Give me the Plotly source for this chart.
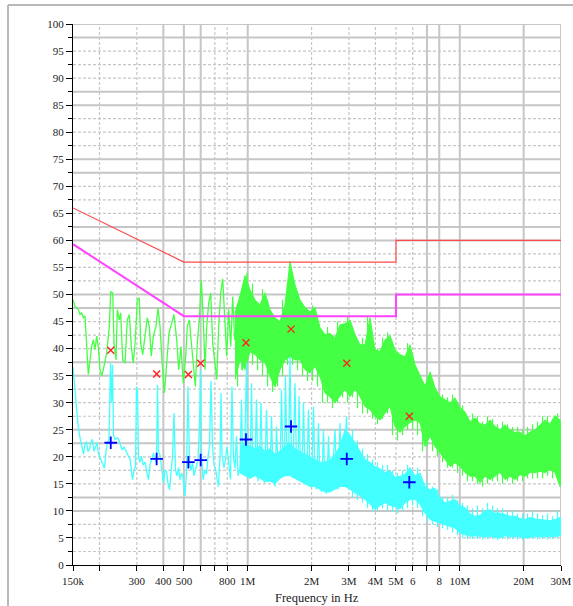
import plotly.graph_objects as go
import numpy as np

# ---------------- data (frequency, level in dBuV) ----------------
# Peak trace (green), low-frequency part as a line
green_line_khz = [150.0, 153.3, 158.9, 161.9, 164.9, 167.8, 170.9, 174.0, 177.1, 180.4, 183.8, 187.0, 190.5, 194.0,
                  197.4, 201.1, 204.9, 208.5, 212.4, 216.3, 222.5, 225.9, 230.9, 234.1, 239.3, 242.7, 248.0, 251.8,
                  257.3, 263.9, 270.5, 276.4, 282.5, 288.7, 295.0, 301.5, 308.1, 312.8, 319.7, 327.8, 336.1, 343.5,
                  351.0, 358.7, 369.3, 377.5, 385.8, 394.2, 404.2, 414.8, 425.3, 438.0, 449.0, 462.5, 472.6, 484.5,
                  496.8, 510.0, 518.9, 530.3, 542.0, 553.8, 566.1, 578.4, 591.1, 604.0, 617.4, 628.9, 640.6, 654.6,
                  669.1, 683.7, 698.7, 714.1, 729.7, 745.7, 762.0, 778.9, 795.9, 813.3, 831.3, 849.5, 868.1, 887.1,
                  906.7, 924.6, 939.7, 960.4, 976.1, 992.1, 1008.5]
green_line_db = [49.0, 47.8, 47.2, 46.3, 46.6, 45.7, 46.0, 41.0, 35.2, 37.9, 40.4, 41.6, 39.8, 42.3,
                 40.4, 36.1, 34.9, 36.1, 37.9, 39.2, 44.1, 50.5, 50.3, 41.0, 37.9, 47.2, 45.3, 46.6,
                 37.9, 37.3, 45.3, 46.3, 40.4, 37.3, 41.6, 49.0, 49.4, 41.0, 38.9, 42.3, 45.7, 44.1,
                 38.6, 42.3, 44.1, 47.5, 44.1, 37.9, 31.8, 37.3, 42.9, 44.7, 46.3, 41.6, 36.1, 40.4,
                 33.6, 38.6, 44.1, 45.3, 41.0, 36.1, 33.0, 41.0, 45.3, 52.7, 45.3, 36.1, 44.1, 48.4,
                 50.3, 41.0, 37.9, 34.3, 44.1, 50.3, 52.9, 44.1, 38.6, 47.2, 40.4, 49.6, 41.6, 44.7,
                 48.4, 43.0, 36.0, 46.0, 40.0, 54.0, 42.0]

# Peak trace, dense part: upper / lower envelope
green_band_mhz = [0.871, 0.920, 0.971, 1.025, 1.082, 1.143, 1.207, 1.274, 1.345, 1.420, 1.499, 1.583, 1.671,
                  1.764, 1.863, 1.967, 2.076, 2.192, 2.314, 2.443, 2.580, 2.724, 2.876, 3.036, 3.206, 3.384,
                  3.573, 3.773, 3.983, 4.206, 4.440, 4.688, 4.949, 5.226, 5.517, 5.825, 6.150, 6.493, 6.855,
                  7.237, 7.641, 8.067, 8.517, 8.992, 9.493, 10.02, 10.58, 11.17, 11.79, 12.45, 13.15, 13.88,
                  14.66, 15.47, 16.34, 17.25, 18.21, 19.23, 20.30, 21.43, 22.63, 23.89, 25.22, 26.63, 28.11,
                  29.68, 30.0]
green_upper_db = [46.6, 49.8, 53.5, 50.9, 49.0, 48.1, 50.3, 47.2, 45.7, 45.0, 48.1, 56.1, 51.8,
                  49.0, 47.6, 46.8, 47.6, 43.9, 42.6, 42.8, 42.0, 44.4, 44.6, 45.3, 42.6, 40.7,
                  40.7, 45.7, 39.8, 39.5, 41.6, 42.4, 39.8, 38.9, 38.5, 40.7, 37.0, 35.2, 33.1,
                  35.7, 32.8, 31.1, 30.6, 30.0, 30.9, 29.1, 28.3, 26.5, 27.2, 26.1, 25.9, 26.8,
                  25.6, 25.0, 25.9, 25.0, 24.5, 24.6, 23.9, 24.6, 25.0, 25.9, 26.8, 26.1, 27.6,
                  26.8, 26.0]
green_lower_db = [34.3, 37.9, 36.1, 39.4, 38.9, 37.9, 37.4, 34.8, 32.9, 36.1, 37.9, 38.5, 37.9,
                  37.9, 36.1, 35.5, 36.7, 34.8, 31.8, 31.1, 30.0, 31.1, 32.4, 31.1, 32.4, 31.1,
                  29.3, 28.7, 27.4, 26.8, 28.1, 29.3, 25.6, 24.5, 25.6, 26.3, 26.8, 26.3, 21.9,
                  23.8, 21.9, 20.8, 19.5, 18.2, 18.9, 18.2, 17.1, 16.4, 16.4, 15.2, 16.4, 15.8,
                  16.4, 17.1, 15.8, 16.4, 15.8, 16.7, 16.4, 17.1, 17.1, 17.3, 17.1, 17.6, 17.1,
                  14.5, 15.0]

# Peak trace: individual spikes sticking out of the dense part (frequency, top, bottom)
green_spike_mhz = [0.895, 0.945, 1.053, 1.112, 1.174, 1.240, 1.309, 1.382, 1.459, 1.540, 1.627, 1.717,
                   1.813, 1.914, 2.021, 2.133, 2.252, 2.378, 2.510, 2.651, 2.799, 2.955, 3.119, 3.294,
                   3.477, 3.671, 3.877, 4.093, 4.322, 4.562, 4.817, 5.085, 5.370, 5.669, 5.985, 6.319,
                   6.672, 7.044, 7.436, 7.851, 8.289, 8.751, 9.239, 9.754, 10.30, 10.87, 11.48, 12.11,
                   12.79, 13.51, 14.26, 15.06, 15.90, 16.79, 17.72, 18.71, 19.76, 20.86, 22.02, 23.25,
                   24.55, 25.91, 27.36, 28.88]
green_spike_top_db = [48.0, 51.0, 52.0, 47.0, 51.0, 49.0, 46.0, 44.0, 49.0, 52.0, 53.0, 50.0,
                      48.0, 46.0, 48.0, 45.0, 42.0, 44.0, 41.0, 45.0, 43.0, 46.0, 44.0, 41.0,
                      42.0, 46.0, 41.0, 40.0, 42.0, 43.0, 41.0, 39.0, 38.0, 41.0, 39.0, 36.0,
                      34.0, 35.0, 34.0, 32.0, 31.5, 31.0, 31.5, 30.0, 29.5, 27.5, 28.0, 27.5,
                      26.5, 27.5, 27.0, 26.0, 26.5, 26.0, 25.5, 25.5, 25.0, 25.5, 26.0, 26.5,
                      27.5, 27.5, 27.0, 28.0]
green_spike_bottom_db = [33.0, 36.0, 37.0, 36.0, 35.0, 33.0, 32.0, 33.0, 35.0, 37.0, 37.0, 36.0,
                         35.0, 34.0, 34.0, 33.0, 30.0, 30.0, 29.0, 30.0, 31.0, 30.0, 31.0, 29.0,
                         28.0, 28.0, 27.0, 26.0, 27.0, 28.0, 24.0, 23.0, 24.0, 25.0, 25.0, 24.0,
                         21.0, 22.0, 21.0, 20.0, 19.0, 18.0, 18.0, 17.0, 16.5, 15.5, 15.5, 15.0,
                         14.5, 15.0, 15.5, 15.5, 15.0, 15.5, 15.0, 15.5, 15.5, 16.0, 16.0, 16.0,
                         16.0, 16.5, 16.0, 16.0]

# Average trace (cyan), spiky line part
cyan_line_khz = [150.0, 152.5, 155.0, 158.4, 161.9, 165.4, 168.1, 170.9, 173.7, 176.5, 179.4, 182.4, 185.4,
                 188.4, 191.5, 194.7, 197.9, 201.1, 204.4, 207.8, 211.2, 214.6, 218.2, 221.7, 225.4, 227.8,
                 230.3, 232.9, 236.6, 241.9, 245.8, 249.9, 255.3, 261.0, 266.7, 272.5, 278.6, 286.2, 290.9,
                 295.7, 298.9, 302.2, 305.4, 310.5, 315.6, 320.8, 327.8, 335.0, 340.5, 346.1, 353.7, 359.5,
                 365.4, 371.4, 375.4, 379.5, 385.8, 392.1, 400.7, 407.3, 414.0, 420.8, 427.7, 434.7, 441.8,
                 449.0, 456.5, 464.0, 471.6, 479.3, 487.2, 495.3, 506.1, 514.5, 522.8, 531.4, 540.2, 549.0,
                 558.0, 570.2, 582.9, 592.5, 598.9, 605.4, 615.4, 628.9, 639.3, 649.7, 660.4, 671.2, 682.3,
                 693.4, 704.9, 716.5, 727.9, 739.9, 748.0, 756.1, 772.8, 785.4, 798.4, 815.8, 829.3, 843.0,
                 856.7, 870.8, 885.2, 899.7, 919.4, 934.6, 950.0, 965.4, 986.8, 1002.8, 1024.9, 1041.6,
                 1058.8, 1082.0, 1099.8, 1117.9, 1136.4, 1154.9, 1173.9, 1199.6, 1226.1, 1246.1, 1273.6,
                 1294.3, 1315.5, 1344.3, 1366.5, 1389.0, 1419.4, 1442.8, 1466.5, 1490.4, 1506.6, 1531.4,
                 1556.7, 1582.3, 1608.0, 1634.5, 1670.4, 1697.9, 1725.9, 1744.7, 1773.4, 1802.3, 1832.0,
                 1862.2, 1892.8, 1934.2, 1966.1, 1998.4, 2042.1, 2075.8, 2109.6, 2156.3, 2191.2, 2227.3,
                 2276.1, 2313.6, 2351.8, 2403.3, 2442.9, 2483.2, 2579.4, 2621.4, 2664.6, 2723.0, 2767.5,
                 2813.2, 2922.0, 2969.6, 3035.2]
cyan_line_db = [36.5, 33.0, 29.0, 26.0, 23.5, 21.5, 20.5, 22.3, 22.8, 21.0, 21.4, 22.8, 23.2,
                21.0, 22.0, 22.6, 20.5, 19.8, 19.2, 18.5, 17.9, 21.0, 22.6, 23.2, 37.3, 30.0,
                37.0, 24.0, 23.2, 23.5, 23.3, 22.5, 21.3, 21.8, 21.0, 20.0, 19.5, 15.8, 17.5,
                18.2, 33.0, 32.0, 20.0, 19.0, 20.1, 18.5, 19.0, 17.0, 15.8, 18.5, 20.0, 20.7,
                19.5, 18.8, 33.3, 21.0, 20.3, 18.0, 15.2, 17.5, 17.3, 15.0, 13.9, 17.0, 20.0,
                28.1, 17.5, 16.5, 18.0, 15.8, 17.0, 16.2, 12.7, 17.3, 33.0, 19.0, 17.5, 19.0,
                16.5, 18.0, 19.5, 26.0, 36.0, 20.5, 15.8, 17.5, 16.8, 20.0, 21.9, 34.0, 22.0,
                18.5, 17.8, 16.0, 14.5, 20.0, 31.8, 20.5, 18.0, 19.5, 21.9, 18.5, 15.8, 33.0,
                20.0, 17.8, 23.8, 16.5, 18.0, 30.6, 17.0, 19.0, 37.3, 18.5, 17.0, 33.6,
                16.5, 18.5, 30.6, 15.5, 19.0, 30.0, 17.0, 15.2, 28.7, 18.0, 16.0,
                27.5, 17.5, 14.5, 25.6, 18.0, 16.5, 32.4, 19.0, 18.0, 34.9, 20.0,
                18.5, 38.6, 20.0, 17.5, 33.6, 18.5, 17.0, 31.2, 18.0, 16.0, 30.0,
                17.0, 15.0, 28.7, 16.5, 14.5, 29.3, 15.5, 14.0, 26.2, 15.0, 13.5,
                25.0, 14.5, 13.2, 23.8, 15.0, 13.8, 25.0, 15.5, 14.0, 26.2, 16.0,
                14.5, 27.5, 18.0, 15.0]

# Average trace, dense part: upper / lower envelope
cyan_band_mhz = green_band_mhz[1:]
cyan_upper_db = [22.0, 22.5, 22.0, 21.5, 22.0, 21.0, 21.5, 20.5, 21.0, 22.0, 22.5, 21.5, 21.0,
                 20.5, 20.0, 19.5, 19.0, 19.0, 19.5, 20.5, 22.0, 25.0, 24.0, 22.6, 21.0, 19.5,
                 19.0, 18.2, 17.8, 17.1, 17.4, 16.2, 16.4, 16.8, 18.0, 16.5, 17.0, 14.5, 13.9,
                 14.2, 12.5, 11.5, 11.8, 12.1, 11.0, 10.6, 9.5, 9.0, 9.2, 10.0, 10.2, 9.6, 9.6,
                 9.3, 9.0, 9.0, 8.6, 8.4, 8.8, 8.5, 8.4, 8.3, 8.2, 8.4, 8.8, 8.5]
cyan_lower_db = [17.0, 16.5, 16.0, 16.5, 16.0, 15.5, 15.5, 15.0, 16.0, 16.5, 16.5, 16.0, 15.5,
                 15.0, 14.5, 14.5, 14.0, 13.5, 13.5, 14.0, 14.5, 14.5, 14.0, 13.3, 12.8, 12.1,
                 11.2, 10.3, 11.0, 11.5, 11.0, 10.8, 10.3, 11.5, 12.1, 12.1, 11.2, 9.6, 8.4,
                 8.0, 7.8, 7.4, 7.1, 6.8, 5.9, 5.6, 5.3, 5.4, 5.3, 5.2, 5.3, 5.2, 5.0,
                 5.4, 5.2, 5.3, 5.2, 5.0, 5.2, 5.3, 5.2, 5.3, 5.2, 5.3, 5.4, 5.5]

# Average trace: spikes out of the dense part
cyan_spike_mhz = green_spike_mhz[22:]
cyan_spike_top_db = [25.0, 23.0, 21.5, 20.5, 19.5, 19.0, 18.5, 18.5, 17.5, 17.0, 17.5, 18.5,
                     17.5, 18.0, 15.5, 15.5, 14.5, 14.0, 12.5, 12.5, 13.0, 12.0, 11.5, 11.0,
                     10.5, 11.0, 10.5, 11.5, 11.0, 10.5, 10.5, 10.0, 10.0, 9.5, 9.5, 9.5,
                     10.0, 9.5, 9.2, 9.5, 9.0, 10.0]
cyan_spike_bottom_db = [12.5, 12.0, 11.5, 10.5, 9.8, 10.0, 10.5, 10.0, 9.8, 9.5, 10.0, 10.5,
                        11.0, 10.5, 9.0, 8.0, 7.5, 7.0, 6.8, 6.5, 6.0, 5.5, 5.0, 4.8,
                        4.8, 4.8, 4.7, 4.8, 4.8, 4.6, 4.8, 4.7, 4.8, 4.7, 4.6, 4.8,
                        4.8, 4.7, 4.8, 4.7, 4.8, 4.9]

# Limit lines
limit_f = [150e3, 500e3, 5e6, 5e6, 30e6]
qp_limit_db = [66.0, 56.0, 56.0, 60.0, 60.0]
av_limit_db = [59.3, 46.0, 46.0, 50.0, 50.0]

# Final measurement markers
marker_f = [226e3, 372e3, 525e3, 600e3, 981e3, 1.60e6, 2.93e6, 5.78e6]
qp_marker_db = [39.7, 35.3, 35.2, 37.3, 41.1, 43.6, 37.3, 27.5]
av_marker_db = [22.6, 19.6, 19.0, 19.4, 23.2, 25.6, 19.6, 15.3]

# Axis ticks
x_tickvals = [150e3, 200e3, 300e3, 400e3, 500e3, 600e3, 700e3, 800e3, 1e6, 2e6, 3e6, 4e6, 5e6,
              6e6, 7e6, 8e6, 10e6, 20e6, 30e6]
x_ticktext = ["150k", "", "300", "400", "500", "", "", "800", "1M", "2M", "3M", "4M", "5M",
              "6", "", "8", "10M", "20M", "30M"]
y_tickvals = list(range(0, 101, 5))
x_title = "Frequency in Hz"

# Grid
grid_x_solid = [400e3, 500e3, 600e3, 1e6, 7e6, 8e6, 10e6, 20e6, 30e6]
grid_x_dashed = [200e3, 300e3, 700e3, 800e3, 2e6, 3e6, 4e6, 5e6, 6e6]
grid_y_solid = [100, 97.5, 87.5, 85, 75, 72.5, 62.5, 60, 50, 47.5, 37.5, 35, 25, 22.5, 12.5, 10]
grid_y_dashed = [95, 92.5, 90, 82.5, 80, 77.5, 70, 67.5, 65, 57.5, 55, 52.5, 45, 42.5, 40,
                 32.5, 30, 27.5, 20, 17.5, 15, 7.5, 5, 2.5]

F_MIN, F_MAX = 150e3, 30e6
GREEN = "#44ff44"
CYAN = "#44ffff"
GRID = "#c6c6c6"
FONT = "Liberation Serif"


def grid_segments(xs, ys):
    gx, gy = [], []
    for v in xs:
        gx += [v, v, None]
        gy += [0, 100, None]
    for v in ys:
        gx += [F_MIN, F_MAX, None]
        gy += [v, v, None]
    return gx, gy


def spike_segments(fs, tops, bottoms, scale):
    sx, sy = [], []
    for f, t, b in zip(fs, tops, bottoms):
        sx += [f * scale, f * scale, None]
        sy += [t, b, None]
    return sx, sy


fig = go.Figure()

sx, sy = grid_segments(grid_x_solid, grid_y_solid)
dx, dy = grid_segments(grid_x_dashed, grid_y_dashed)
fig.add_trace(go.Scatter(x=dx, y=dy, mode="lines", line=dict(color=GRID, width=1.2, dash="3px,2px"),
                         hoverinfo="skip"))
fig.add_trace(go.Scatter(x=sx, y=sy, mode="lines", line=dict(color=GRID, width=2), hoverinfo="skip"))

# green peak band + line + spikes
gbf = [f * 1e6 for f in green_band_mhz]
fig.add_trace(go.Scatter(x=gbf + gbf[::-1], y=green_upper_db + green_lower_db[::-1], mode="lines",
                         fill="toself", fillcolor=GREEN, line=dict(color=GREEN, width=1)))
gsx, gsy = spike_segments(green_spike_mhz, green_spike_top_db, green_spike_bottom_db, 1e6)
fig.add_trace(go.Scatter(x=gsx, y=gsy, mode="lines", line=dict(color=GREEN, width=1.2)))
fig.add_trace(go.Scatter(x=[f * 1e3 for f in green_line_khz], y=green_line_db, mode="lines",
                         line=dict(color=GREEN, width=1.3)))

# cyan average band + line + spikes
cbf = [f * 1e6 for f in cyan_band_mhz]
fig.add_trace(go.Scatter(x=cbf + cbf[::-1], y=cyan_upper_db + cyan_lower_db[::-1], mode="lines",
                         fill="toself", fillcolor=CYAN, line=dict(color=CYAN, width=1)))
csx, csy = spike_segments(cyan_spike_mhz, cyan_spike_top_db, cyan_spike_bottom_db, 1e6)
fig.add_trace(go.Scatter(x=csx, y=csy, mode="lines", line=dict(color=CYAN, width=1.2)))
fig.add_trace(go.Scatter(x=[f * 1e3 for f in cyan_line_khz], y=cyan_line_db, mode="lines",
                         line=dict(color=CYAN, width=1.3)))

# limits
fig.add_trace(go.Scatter(x=limit_f, y=av_limit_db, mode="lines", line=dict(color="#ff44ff", width=2)))
fig.add_trace(go.Scatter(x=limit_f, y=qp_limit_db, mode="lines", line=dict(color="#ff4a4a", width=1.2)))

# markers
fig.add_trace(go.Scatter(x=marker_f, y=qp_marker_db, mode="markers",
                         marker=dict(symbol="x-thin", size=7, line=dict(color="#ff2020", width=1.4))))
fig.add_trace(go.Scatter(x=marker_f, y=av_marker_db, mode="markers",
                         marker=dict(symbol="cross-thin", size=9, line=dict(color="#0000ff", width=1.8))))

fig.update_layout(
    width=573, height=606,
    margin=dict(l=73, r=12, t=24, b=41),
    paper_bgcolor="white", plot_bgcolor="white",
    showlegend=False,
    shapes=[
        dict(type="line", xref="paper", yref="paper", x0=-0.1332, x1=1.05, y0=1.0351, y1=1.0351,
             line=dict(color="#b8b8b8", width=2)),
        dict(type="line", xref="paper", yref="paper", x0=-0.1332, x1=-0.1332, y0=1.0351, y1=-0.1,
             line=dict(color="#b8b8b8", width=2)),
    ],
    annotations=[
        dict(text=x_title, xref="paper", yref="paper", x=0.5, y=-0.061, xanchor="center",
             yanchor="middle", showarrow=False, font=dict(family=FONT, size=12.5, color="#222")),
    ],
)
fig.update_xaxes(
    type="log", range=[np.log10(F_MIN), np.log10(F_MAX)], automargin=False,
    showgrid=False, zeroline=False, showline=True, linecolor="black", linewidth=1,
    ticks="outside", ticklen=5, tickcolor="black", tickwidth=1,
    tickmode="array", tickvals=x_tickvals, ticktext=x_ticktext,
    ticklabelstandoff=1,
    tickfont=dict(family=FONT, size=11, color="#222"),
)
fig.update_yaxes(
    range=[0, 100], automargin=False,
    showgrid=False, zeroline=False, showline=True, linecolor="black", linewidth=1,
    ticks="outside", ticklen=6, tickcolor="black", tickwidth=1,
    tickmode="array", tickvals=y_tickvals,
    minor=dict(dtick=2.5, ticks="outside", ticklen=4, tickcolor="black", showgrid=False),
    tickfont=dict(family=FONT, size=11, color="#222"),
)

fig.write_html("out.html", config={"displayModeBar": False},
               post_script="document.body.style.margin='0px';")
